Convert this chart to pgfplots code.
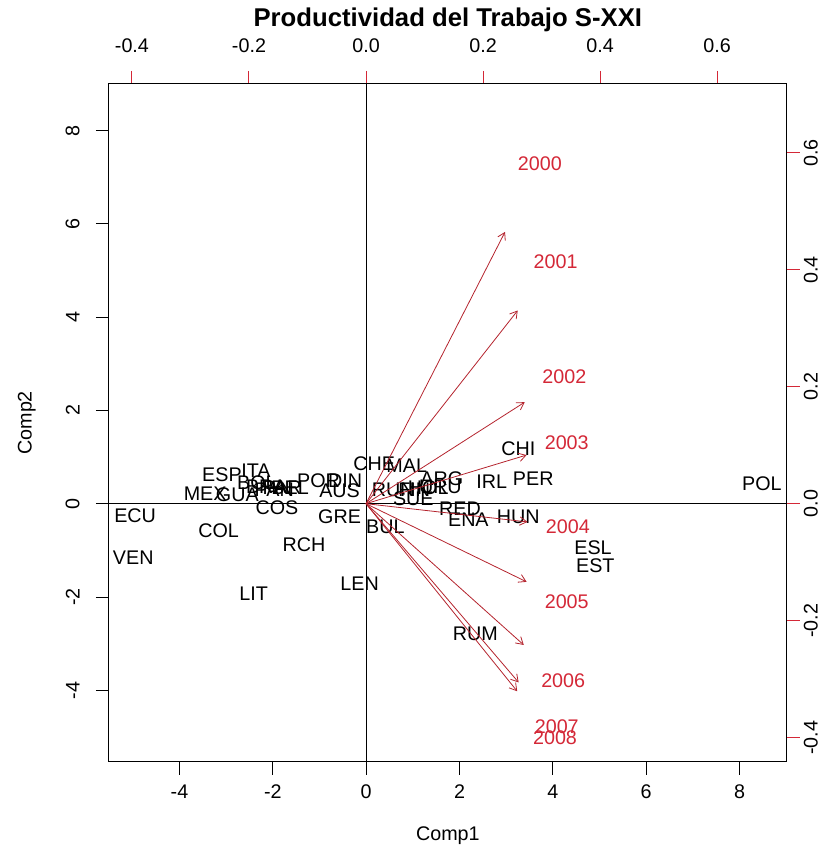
\documentclass[border=0pt]{standalone}
\usepackage{pgfplots}
\usepackage{pgfplotstable}
\pgfplotsset{compat=1.18}
\usepackage{fontspec}
\setmainfont{Liberation Sans}
\usetikzlibrary{arrows.meta}
\definecolor{rred}{RGB}{212,40,55}
\definecolor{ared}{RGB}{180,35,45}

\pgfplotstableread{
x y label
-4.95 -0.25 ECU
-4.99 -1.15 VEN
-3.16 -0.57 COL
-2.41 -1.92 LIT
-3.09 0.63 ESP
-2.36 0.70 ITA
-3.45 0.22 MEX
-2.76 0.20 GUA
-2.34 0.46 BOL
-2.14 0.37 BRA
-1.97 0.31 PAN
-1.80 0.35 PAR
-1.63 0.35 BEL
-1.91 -0.08 COS
-1.33 -0.87 RCH
-0.57 -0.28 GRE
-1.02 0.50 POR
-0.45 0.50 DIN
-0.57 0.29 AUS
-0.14 -1.72 LEN
0.17 0.85 CHE
0.87 0.82 MAL
0.58 0.29 RUN
1.03 0.31 FIN
1.33 0.35 HOL
1.62 0.54 ARG
1.59 0.37 URU
1.01 0.11 SUE
2.69 0.47 IRL
3.58 0.54 PER
3.26 1.18 CHI
2.01 -0.10 RED
2.19 -0.35 ENA
3.26 -0.28 HUN
0.41 -0.50 BUL
2.34 -2.78 RUM
4.86 -0.94 ESL
4.91 -1.33 EST
8.48 0.43 POL
}\scores

\pgfplotstableread{
x y label
0.297 0.581 2000
0.324 0.413 2001
0.339 0.217 2002
0.343 0.104 2003
0.345 -0.039 2004
0.343 -0.167 2005
0.337 -0.302 2006
0.326 -0.382 2007
0.323 -0.401 2008
}\loadings

\begin{document}
\begin{tikzpicture}
\useasboundingbox (-54.5bp,-49.65bp) rectangle (361.5bp,380.85bp);
\begin{axis}[
  scale only axis, width=338.85bp, height=338.85bp,
  xmin=-5.51, xmax=9.01, ymin=-5.53, ymax=9.0,
  axis line style={line width=0.5bp},
  xtick={-4,-2,0,2,4,6,8}, ytick={-4,-2,0,2,4,6,8},
  xtick pos=bottom, ytick pos=left,
  tick align=outside, major tick length=6.5bp,
  tick style={black, line width=0.5bp},
  /pgf/number format/assume math mode=true,
  tick label style={font=\fontsize{9.9}{12}\selectfont},
  label style={font=\fontsize{9.9}{12}\selectfont},
  yticklabel style={rotate=90, anchor=south},
  xticklabel shift=1.5bp, yticklabel shift=4.65bp,
  xlabel={Comp1}, ylabel={Comp2},
  xlabel style={at={(axis description cs:0.5,-0.109)}, anchor=center},
  ylabel style={at={(axis description cs:-0.1214,0.5)}, anchor=center},
  title={Productividad del Trabajo S-XXI},
  every axis title/.style={at={(axis description cs:0.5,1.0944)}, anchor=center, font=\bfseries\fontsize{12.9}{15}\selectfont},
]
\addplot[draw=none, mark=none, nodes near coords, point meta=explicit symbolic,
  nodes near coords style={anchor=center, inner sep=0pt, black, font=\fontsize{9.9}{12}\selectfont}]
  table[x=x, y=y, meta=label] {\scores};
\end{axis}
\begin{axis}[
  scale only axis, width=338.85bp, height=338.85bp,
  xmin=-0.4392, xmax=0.7189, ymin=-0.4412, ymax=0.7177,
  axis x line*=top, axis y line*=right,
  axis line style={line width=0.5bp, -},
  xtick={-0.4,-0.2,0,0.2,0.4,0.6}, ytick={-0.4,-0.2,0,0.2,0.4,0.6},
  tick align=outside, major tick length=6.5bp,
  tick style={rred, line width=0.5bp},
  /pgf/number format/.cd, fixed, fixed zerofill, precision=1, assume math mode=true,
  /pgfplots/.cd,
  tick label style={font=\fontsize{9.9}{12}\selectfont},
  yticklabel style={rotate=90, anchor=north},
  xticklabel shift=5.5bp, yticklabel shift=-1.5bp,
]
\addplot[black, line width=0.5bp] coordinates {(0,-0.4412) (0,0.7177)};
\addplot[black, line width=0.5bp] coordinates {(-0.4392,0) (0.7189,0)};
\addplot[ared, line width=0.4bp, -{Straight Barb[length=3.5bp, width=4.2bp]}] coordinates {(0,0) (0.2376,0.4648)};
\addplot[ared, line width=0.4bp, -{Straight Barb[length=3.5bp, width=4.2bp]}] coordinates {(0,0) (0.2592,0.3304)};
\addplot[ared, line width=0.4bp, -{Straight Barb[length=3.5bp, width=4.2bp]}] coordinates {(0,0) (0.2712,0.1736)};
\addplot[ared, line width=0.4bp, -{Straight Barb[length=3.5bp, width=4.2bp]}] coordinates {(0,0) (0.2744,0.0832)};
\addplot[ared, line width=0.4bp, -{Straight Barb[length=3.5bp, width=4.2bp]}] coordinates {(0,0) (0.2760,-0.0312)};
\addplot[ared, line width=0.4bp, -{Straight Barb[length=3.5bp, width=4.2bp]}] coordinates {(0,0) (0.2744,-0.1336)};
\addplot[ared, line width=0.4bp, -{Straight Barb[length=3.5bp, width=4.2bp]}] coordinates {(0,0) (0.2696,-0.2416)};
\addplot[ared, line width=0.4bp, -{Straight Barb[length=3.5bp, width=4.2bp]}] coordinates {(0,0) (0.2608,-0.3056)};
\addplot[ared, line width=0.4bp, -{Straight Barb[length=3.5bp, width=4.2bp]}] coordinates {(0,0) (0.2584,-0.3208)};
\addplot[draw=none, mark=none, nodes near coords, point meta=explicit symbolic,
  nodes near coords style={anchor=center, inner sep=0pt, rred, font=\fontsize{9.9}{12}\selectfont}]
  table[x=x, y=y, meta=label] {\loadings};
\end{axis}
\end{tikzpicture}
\end{document}
